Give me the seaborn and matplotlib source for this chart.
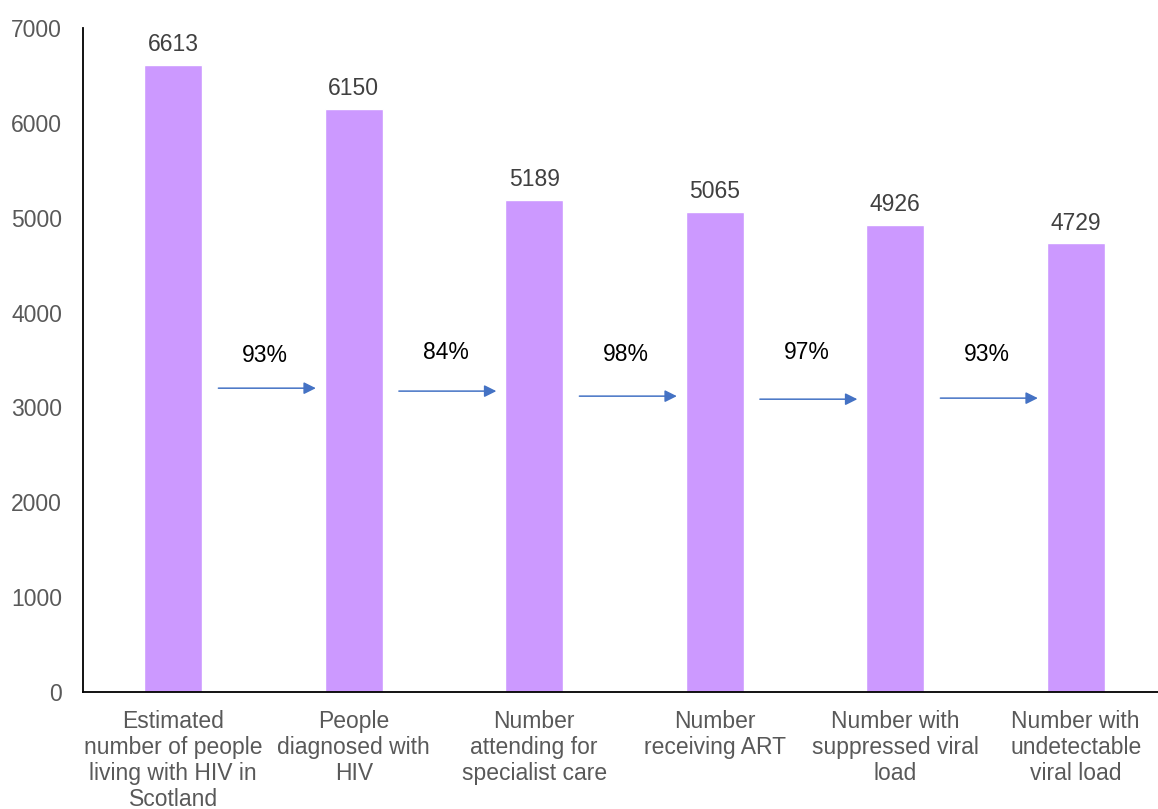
import matplotlib
matplotlib.use("Agg")
import matplotlib.pyplot as plt
import seaborn as sns
import pandas as pd

# Cascade of care values
categories = [
    "Estimated\nnumber of people\nliving with HIV in\nScotland",
    "People\ndiagnosed with\nHIV",
    "Number\nattending for\nspecialist care",
    "Number\nreceiving ART",
    "Number with\nsuppressed viral\nload",
    "Number with\nundetectable\nviral load",
]
values = [6613, 6150, 5189, 5065, 4926, 4729]
step_pcts = ["93%", "84%", "98%", "97%", "93%"]

# Vertical placement of each step arrow and its label (data units)
arrow_y = [3203, 3172, 3119, 3087, 3098]
label_y = [3551, 3583, 3562, 3583, 3562]

sns.set_theme(style="white")
plt.rcParams["font.family"] = ["Liberation Sans", "DejaVu Sans"]

FS = 16.5

fig = plt.figure(figsize=(11.58, 8.09), dpi=100)
W, H = 1158, 809
left, right, top, bottom = 83, 1166, 28, 692
ax = fig.add_axes([left / W, 1 - bottom / H, (right - left) / W, (bottom - top) / H])

df = pd.DataFrame({"stage": categories, "count": values})
sns.barplot(data=df, x="stage", y="count", color="#CC99FF", saturation=1,
            width=0.32, ax=ax)

ax.set_xlim(-0.5, len(categories) - 0.5)
ax.set_ylim(0, 7000)
ax.set_yticks(range(0, 7001, 1000))
ax.set_xlabel("")
ax.set_ylabel("")

for side in ["top", "right"]:
    ax.spines[side].set_visible(False)
for side in ["left", "bottom"]:
    ax.spines[side].set_color("black")
    ax.spines[side].set_linewidth(1.3)

ax.tick_params(axis="y", length=0, pad=15, labelsize=FS, labelcolor="#595959")
ax.tick_params(axis="x", length=0, pad=13, labelsize=FS, labelcolor="#595959")
for lbl in ax.get_xticklabels():
    lbl.set_linespacing(1.17)

# Value labels above bars
for i, v in enumerate(values):
    ax.text(i, v + 90, f"{v}", ha="center", va="bottom", fontsize=FS, color="#404040")

# Step arrows with conversion percentages
for i, pct in enumerate(step_pcts):
    ax.annotate("", xy=(i + 0.79, arrow_y[i]), xytext=(i + 0.25, arrow_y[i]),
                arrowprops=dict(arrowstyle="-|>", color="#4472C4", lw=1.1,
                                mutation_scale=18, shrinkA=0, shrinkB=0))
    ax.text(i + 0.51, label_y[i], pct, ha="center", va="center",
            fontsize=FS, color="black")

fig.savefig("out.png", dpi=100)
